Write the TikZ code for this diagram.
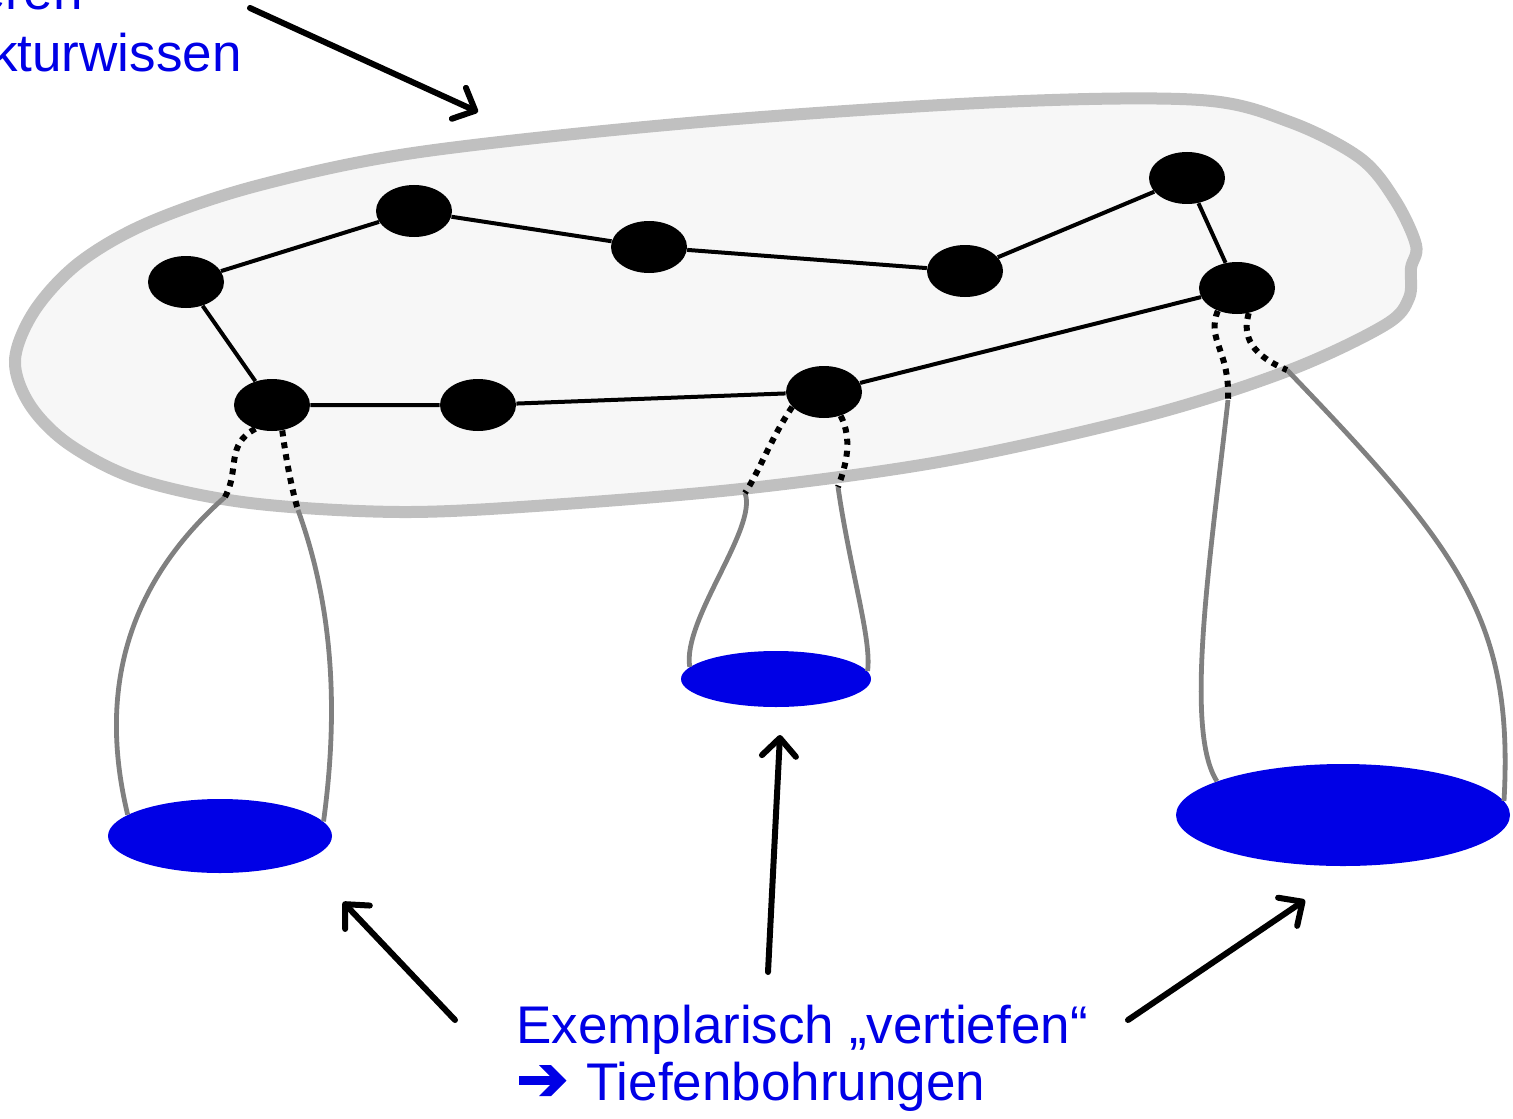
\documentclass[tikz,border=0pt]{standalone}
\usepackage{fontspec}
\setmainfont{Liberation Sans}
\newfontfamily\symfont[FakeBold=2.5]{DejaVu Sans}
\usetikzlibrary{arrows.meta,shapes.geometric}
\definecolor{deepblue}{RGB}{0,0,230}
\definecolor{blobfill}{RGB}{247,247,247}
\definecolor{blobline}{RGB}{192,192,192}
\definecolor{stemgray}{RGB}{128,128,128}

\begin{document}
\begin{tikzpicture}[x=0.5pt,y=-0.5pt,
    every node/.style={font=\fontsize{26.5}{30}\selectfont},
    knot/.style={ellipse, fill=black, minimum width=38pt, minimum height=26pt, inner sep=0pt},
    hole/.style={ellipse, fill=deepblue, inner sep=0pt},
    link/.style={line width=2pt},
    stem/.style={stemgray, line width=2.4pt},
    probe/.style={line width=3pt, dash pattern=on 3pt off 3pt},
    pointer/.style={line width=3pt, line cap=round, -{Straight Barb[length=9pt,width=17pt,round]}},
    label/.style={text=deepblue, inner sep=0pt}]
    \useasboundingbox (0,0) rectangle (1513,1118);

    % Ueberblick: die graue Flaeche
    \draw[blobline, fill=blobfill, line width=6pt] plot[smooth cycle, tension=0.55] coordinates {
        (15,360) (35,310) (80,262) (150,222) (260,185) (420,152) (700,122)
        (1000,102) (1200,100) (1290,122) (1360,158) (1395,200) (1416,245)
        (1411,268) (1409,298) (1385,325) (1290,370) (1150,415) (950,460)
        (750,488) (550,505) (400,512) (250,503) (140,480) (70,445) (30,405)
    };

    % Tiefenbohrungen
    \node[hole, minimum width=112pt, minimum height=37pt] (b1) at (220,836) {};
    \node[hole, minimum width=95pt, minimum height=28pt] (b2) at (776,679) {};
    \node[hole, minimum width=167pt, minimum height=51pt] (b3) at (1343,815) {};

    % Uebergaenge am Rand der Flaeche
    \coordinate (j1) at (225,497);
    \coordinate (j2) at (298,510);
    \coordinate (j3) at (745,493);
    \coordinate (j4) at (838,487);
    \coordinate (j5) at (1228,400);
    \coordinate (j6) at (1287,370);

    \draw[stem] (j1) .. controls (120,590) and (100,700) .. (b1.167);
    \draw[stem] (j2) .. controls (338,620) and (336,730) .. (b1.8);
    \draw[stem] (j3) .. controls (758,528) and (682,620) .. (b2.172);
    \draw[stem] (j4) .. controls (850,570) and (872,640) .. (b2.5);
    \draw[stem] (j5) .. controls (1210,560) and (1184,730) .. (b3.165);
    \draw[stem] (j6) .. controls (1460,550) and (1514,620) .. (b3.5);

    % Strukturwissen: Knoten
    \node[knot] (n1) at (186,282) {};
    \node[knot] (n2) at (414,211) {};
    \node[knot] (n3) at (649,247) {};
    \node[knot] (n4) at (965,271) {};
    \node[knot] (n5) at (1187,178) {};
    \node[knot] (n6) at (1237,288) {};
    \node[knot] (n7) at (272,405) {};
    \node[knot] (n8) at (478,405) {};
    \node[knot] (n9) at (824,392) {};

    \draw[link] (n1) -- (n2) -- (n3) -- (n4) -- (n5) -- (n6) -- (n9) -- (n8) -- (n7) -- (n1);

    \draw[probe] (n7.235) .. controls (225,445) and (240,470) .. (j1);
    \draw[probe] (n7.292) .. controls (286,460) and (292,490) .. (j2);
    \draw[probe] (n9.205) .. controls (770,440) and (760,470) .. (j3);
    \draw[probe] (n9.305) .. controls (853,440) and (846,465) .. (j4);
    \draw[probe] (n6.230) .. controls (1206,340) and (1230,350) .. (j5);
    \draw[probe] (n6.295) .. controls (1244,330) and (1244,352) .. (j6);

    % Beschriftung
    \node[label, anchor=base east] (top1) at (83,10) {Orientieren};
    \node[label, anchor=base east] (top2) at (242,72) {Strukturwissen};
    \node[label, anchor=base west] (bot1) at (516,1043) {Exemplarisch „vertiefen“};
    \node[label, anchor=base west] (bot2) at (516,1100) {{\symfont\fontsize{31}{31}\selectfont ➔}\hspace{9pt}Tiefenbohrungen};

    \coordinate (s0) at (250,8);    \coordinate (t0) at (478,112);
    \coordinate (s1) at (455,1020); \coordinate (t1) at (343,902);
    \coordinate (s2) at (768,972);  \coordinate (t2) at (780,735);
    \coordinate (s3) at (1128,1020);\coordinate (t3) at (1305,900);
    \foreach \i in {0,...,3}
        \draw[pointer] (s\i) -- (t\i);
\end{tikzpicture}
\end{document}
